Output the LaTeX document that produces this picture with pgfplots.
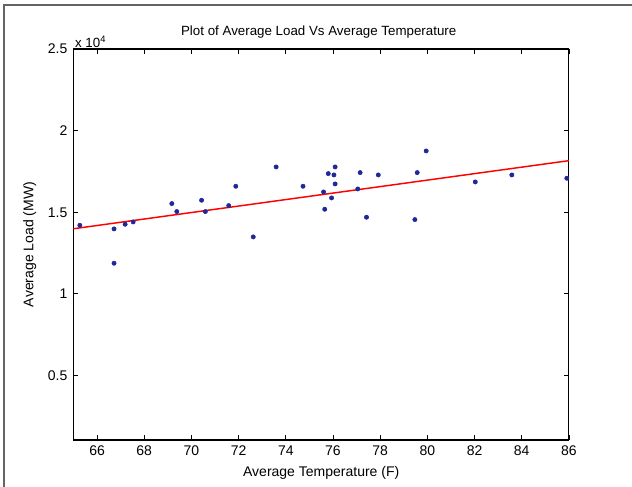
\documentclass[border=0pt]{standalone}
\usepackage{pgfplots}
\pgfplotsset{compat=1.18}
\usepackage{fontspec}
\setmainfont{Liberation Sans}
\definecolor{dotblue}{RGB}{30,40,150}
\definecolor{framegray}{RGB}{100,100,100}
\begin{document}
\begin{tikzpicture}
\begin{axis}[
  scale only axis,
  width=371.6pt, height=293.25pt,
  xmin=65, xmax=86, ymin=1050, ymax=25000,
  xtick={66,68,...,86},
  ytick={5000,10000,15000,20000,25000},
  yticklabels={0.5,1,1.5,2,2.5},
  scaled y ticks=false,
  /pgf/number format/assume math mode=true,
  tick align=inside,
  xtick pos=both, ytick pos=both,
  major tick length=3.5pt,
  tick style={black, line width=0.6pt},
  axis line style={black, line width=0.8pt},
  ticklabel style={font=\fontsize{10.5}{12}\selectfont},
  xticklabel style={yshift=-1pt},
  yticklabel style={xshift=-1pt},
  title={Plot of Average Load Vs Average Temperature},
  every axis title/.style={at={(axis description cs:0.495,1.043)},anchor=center,font=\fontsize{10}{12}\selectfont},
  xlabel={Average Temperature (F)},
  every axis x label/.style={at={(axis description cs:0.5,-0.0845)},anchor=center,font=\fontsize{10.5}{12}\selectfont},
  ylabel={Average Load (MW)},
  every axis y label/.style={at={(axis description cs:-0.088,0.5)},rotate=90,anchor=center,font=\fontsize{10.5}{12}\selectfont},
  clip=false,
]
\addplot[only marks, mark=*, mark size=1.6pt, color=dotblue] coordinates {
(65.27,14204) (66.72,13980) (66.72,11878) (67.19,14265) (67.53,14408)
(69.17,15531) (69.38,15041) (70.43,15735) (70.59,15041) (71.58,15408)
(71.88,16592) (72.62,13490) (73.59,17776) (74.73,16592) (75.60,16245)
(75.65,15184) (75.80,17367) (75.94,15878) (76.04,17286) (76.09,17776)
(76.09,16735) (77.05,16429) (77.15,17429) (77.42,14694) (77.92,17286)
(79.47,14551) (79.57,17429) (79.95,18755) (82.03,16857) (83.58,17286)
(85.91,17082)
};
\addplot[red, line width=1.1pt] coordinates {(65,13990) (86,18160)};
\node[anchor=south west, font=\fontsize{10}{12}\selectfont, inner sep=1pt] at (rel axis cs:0,1) {x 10\textsuperscript{4}};
\end{axis}
\useasboundingbox (-55.1pt,-34.5pt) rectangle (418.9pt,330pt);
\draw[framegray, line width=1.2pt] (-52.1pt,-40pt) -- (-52.1pt,326.25pt) -- (425pt,326.25pt);
\end{tikzpicture}
\end{document}
